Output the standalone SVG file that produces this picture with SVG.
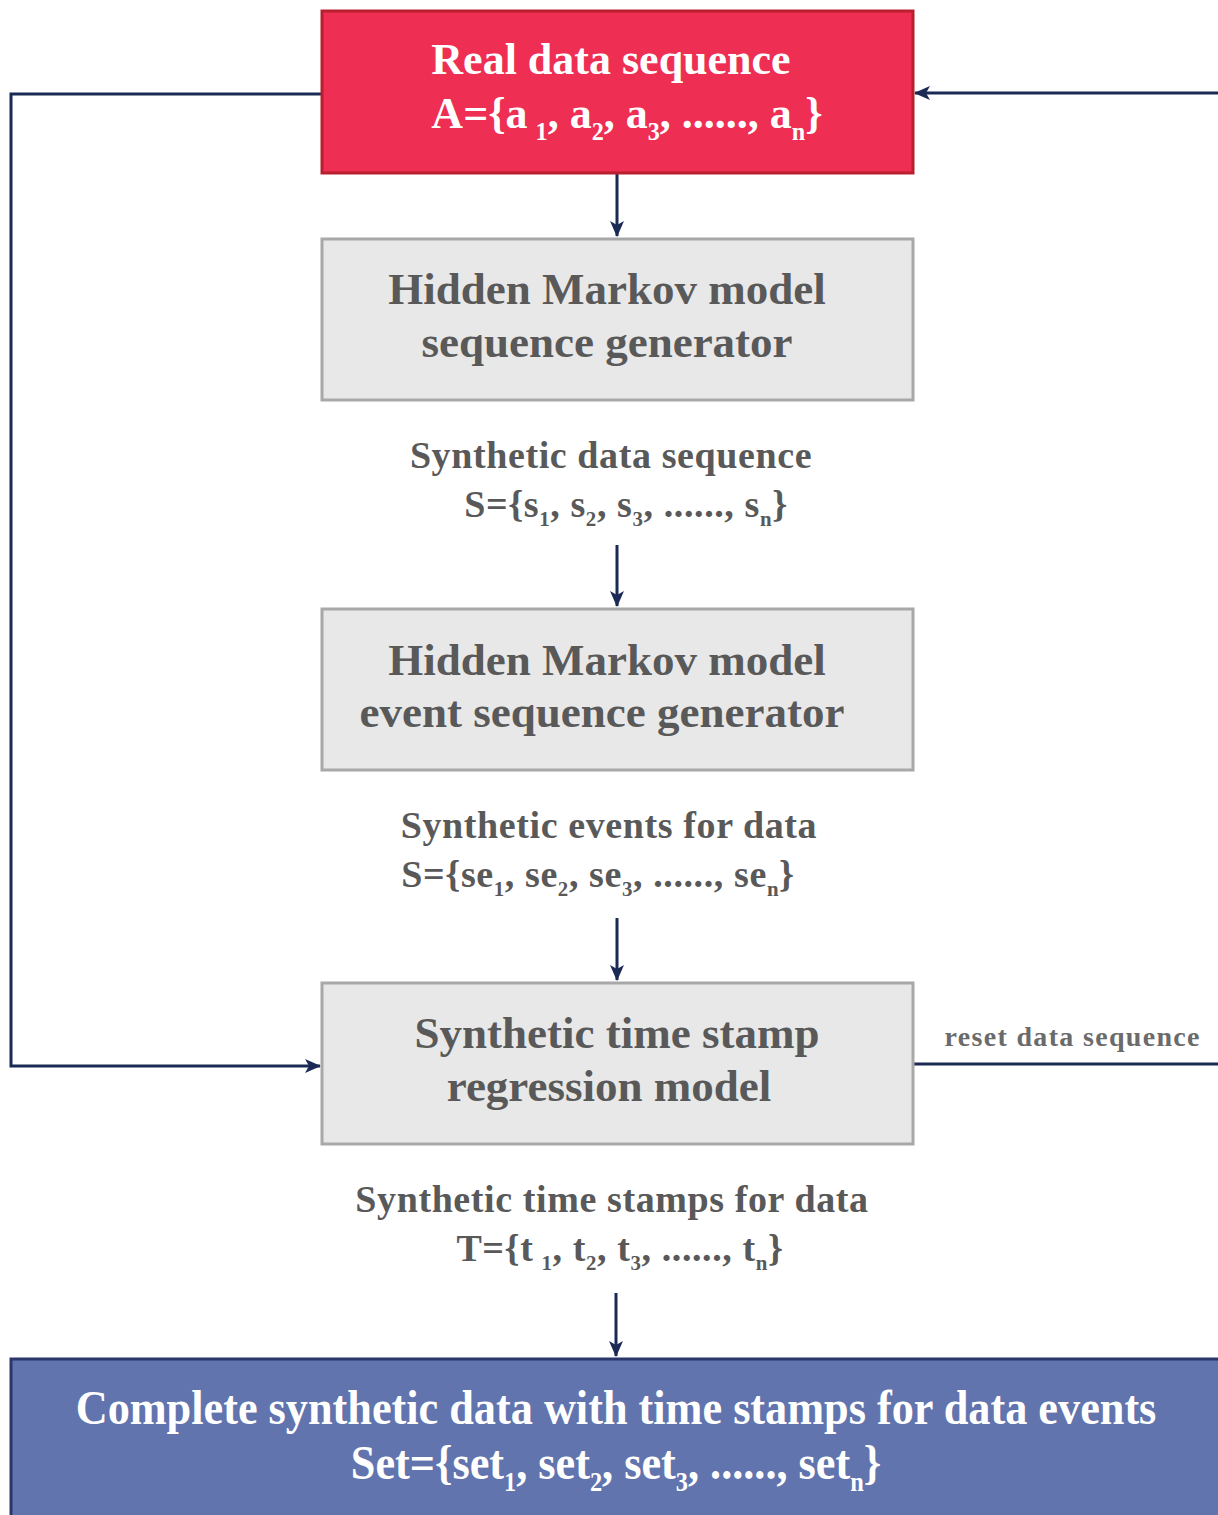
<svg xmlns="http://www.w3.org/2000/svg" width="1218" height="1515" viewBox="0 0 1218 1515">
  <defs>
    <marker id="arrow" markerUnits="userSpaceOnUse" markerWidth="16" markerHeight="16" viewBox="0 0 16 16" refX="15" refY="8" orient="auto">
      <path d="M0,1 L16,8 L0,15 L4,8 Z" fill="#1B2A55"/>
    </marker>
    <style>
      .txt { font-family: "Liberation Serif", "Times New Roman", serif; font-weight: bold; text-anchor: middle; }
      .box-title { font-size: 45px; fill: #595959; }
      .red-title { font-size: 44px; fill: #ffffff; }
      .label { font-size: 38px; fill: #595959; letter-spacing: 0.6px; }
      .blue-title { font-size: 48px; fill: #ffffff; }
      .note { font-size: 28px; fill: #6b6b6b; }
      .sub { font-size: 0.55em; }
      .conn { fill: none; stroke: #1B2A55; stroke-width: 3; }
      .grey-box { fill: #E8E8E8; stroke: #A8A8A8; stroke-width: 3; }
    </style>
  </defs>

  <rect width="1218" height="1515" fill="#ffffff"/>

  <!-- connectors -->
  <g id="connectors">
    <line class="conn" x1="617" y1="173" x2="617" y2="236" marker-end="url(#arrow)"/>
    <line class="conn" x1="617" y1="545" x2="617" y2="606" marker-end="url(#arrow)"/>
    <line class="conn" x1="617" y1="918" x2="617" y2="980" marker-end="url(#arrow)"/>
    <line class="conn" x1="616" y1="1293" x2="616" y2="1356" marker-end="url(#arrow)"/>
    <path class="conn" d="M322,94 H11 V1066 H320" marker-end="url(#arrow)"/>
    <path class="conn" d="M913,1064 H1240 V93 H915" marker-end="url(#arrow)"/>
  </g>

  <!-- real data sequence -->
  <g id="real-data">
    <rect x="322" y="11" width="591" height="162" fill="#EE2E53" stroke="#B8202F" stroke-width="3"/>
    <text class="txt red-title" x="611" y="74">Real data sequence</text>
    <text class="txt red-title" x="627" y="128">A={a<tspan class="sub" dx="8" dy="12">1</tspan><tspan dy="-12">, a</tspan><tspan class="sub" dy="12">2</tspan><tspan dy="-12">, a</tspan><tspan class="sub" dy="12">3</tspan><tspan dy="-12">, ......, a</tspan><tspan class="sub" dy="12">n</tspan><tspan dy="-12">}</tspan></text>
  </g>

  <!-- HMM sequence generator -->
  <g id="hmm-sequence">
    <rect class="grey-box" x="322" y="239" width="591" height="161"/>
    <text class="txt box-title" x="607" y="304">Hidden Markov model</text>
    <text class="txt box-title" x="607" y="357">sequence generator</text>
  </g>

  <g id="synthetic-data-label">
    <text class="txt label" x="611" y="468">Synthetic data sequence</text>
    <text class="txt label" x="626" y="517">S={s<tspan class="sub" dy="9">1</tspan><tspan dy="-9">, s</tspan><tspan class="sub" dy="9">2</tspan><tspan dy="-9">, s</tspan><tspan class="sub" dy="9">3</tspan><tspan dy="-9">, ......, s</tspan><tspan class="sub" dy="9">n</tspan><tspan dy="-9">}</tspan></text>
  </g>

  <!-- HMM event sequence generator -->
  <g id="hmm-event">
    <rect class="grey-box" x="322" y="609" width="591" height="161"/>
    <text class="txt box-title" x="607" y="675">Hidden Markov model</text>
    <text class="txt box-title" x="602" y="727">event sequence generator</text>
  </g>

  <g id="synthetic-events-label">
    <text class="txt label" x="609" y="838">Synthetic events for data</text>
    <text class="txt label" x="598" y="887">S={se<tspan class="sub" dy="9">1</tspan><tspan dy="-9">, se</tspan><tspan class="sub" dy="9">2</tspan><tspan dy="-9">, se</tspan><tspan class="sub" dy="9">3</tspan><tspan dy="-9">, ......, se</tspan><tspan class="sub" dy="9">n</tspan><tspan dy="-9">}</tspan></text>
  </g>

  <!-- time stamp regression model -->
  <g id="timestamp-model">
    <rect class="grey-box" x="322" y="983" width="591" height="161"/>
    <text class="txt box-title" x="617" y="1048">Synthetic time stamp</text>
    <text class="txt box-title" x="609" y="1101">regression model</text>
  </g>

  <g id="reset-label">
    <text class="txt note" x="1072" y="1046" textLength="255" lengthAdjust="spacing">reset data sequence</text>
  </g>

  <g id="timestamps-label">
    <text class="txt label" x="612" y="1212">Synthetic time stamps for data</text>
    <text class="txt label" x="620" y="1261">T={t<tspan class="sub" dx="8" dy="9">1</tspan><tspan dy="-9">, t</tspan><tspan class="sub" dy="9">2</tspan><tspan dy="-9">, t</tspan><tspan class="sub" dy="9">3</tspan><tspan dy="-9">, ......, t</tspan><tspan class="sub" dy="9">n</tspan><tspan dy="-9">}</tspan></text>
  </g>

  <!-- complete synthetic data -->
  <g id="complete-data">
    <rect x="11" y="1359" width="1230" height="180" fill="#6274AE" stroke="#2A3768" stroke-width="3"/>
    <g transform="translate(616,0) scale(0.922,1)">
      <text class="txt blue-title" x="0" y="1424">Complete synthetic data with time stamps for data events</text>
      <text class="txt blue-title" x="0" y="1479">Set={set<tspan class="sub" dy="12">1</tspan><tspan dy="-12">, set</tspan><tspan class="sub" dy="12">2</tspan><tspan dy="-12">, set</tspan><tspan class="sub" dy="12">3</tspan><tspan dy="-12">, ......, set</tspan><tspan class="sub" dy="12">n</tspan><tspan dy="-12">}</tspan></text>
    </g>
  </g>
</svg>
